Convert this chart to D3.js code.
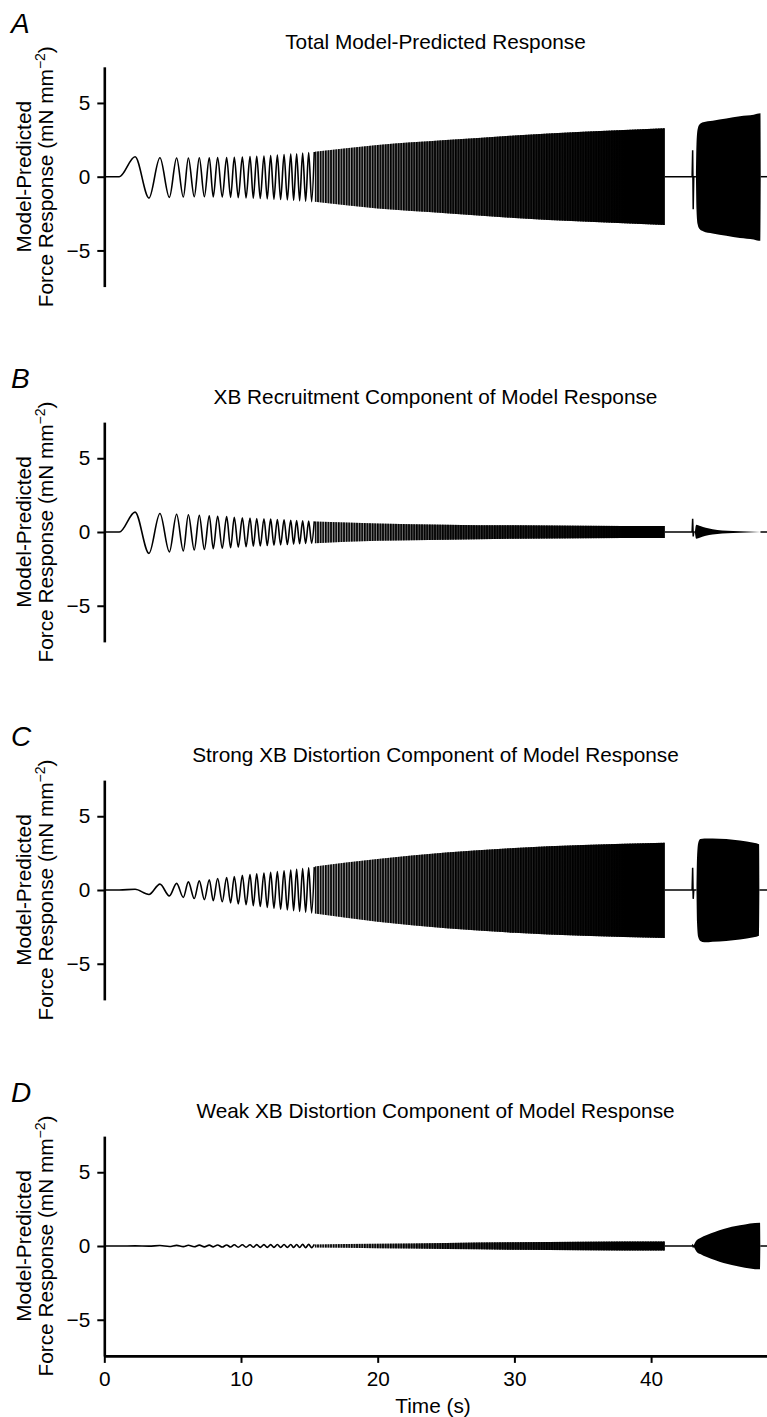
<!DOCTYPE html>
<html>
<head>
<meta charset="utf-8">
<script src="https://cdn.jsdelivr.net/npm/d3@7"></script>
<style>
  body { margin: 0; background: #fff; }
  svg { display: block; }
  text { font-family: "Liberation Sans", Arial, Helvetica, sans-serif; fill: #000; }
</style>
</head>
<body>
<div id="chart"></div>
<script>
// ---- data ----
const panelLetters = ['A', 'B', 'C', 'D']
const panelTitles = [
  'Total Model-Predicted Response',
  'XB Recruitment Component of Model Response',
  'Strong XB Distortion Component of Model Response',
  'Weak XB Distortion Component of Model Response'
]
const yTicks = [-5, 0, 5]
const xTicks = [0, 10, 20, 30, 40]

// stimulus onset and timing of the resolvable cycles (s)
const onsetTime = 1.1
const peakTimes = [2.25, 4.07, 5.29, 6.15, 6.95, 7.68, 8.29, 8.95, 9.51, 10.10, 10.66,
  11.15, 11.68, 12.17, 12.66, 13.15, 13.64, 14.07, 14.51, 14.95, 15.36]
const troughTimes = [3.27, 4.76, 5.78, 6.58, 7.32, 7.97, 8.63, 9.24, 9.80, 10.37,
  10.90, 11.41, 11.92, 12.41, 12.90, 13.39, 13.85, 14.29, 14.73, 15.17]

// peak / trough values (mN mm-2) for each panel
const peaksA = [1.35, 1.28, 1.27, 1.27, 1.28, 1.28, 1.3, 1.3, 1.32, 1.34, 1.36,
  1.38, 1.4, 1.43, 1.46, 1.5, 1.53, 1.56, 1.6, 1.64, 1.68]
const troughsA = [-1.45, -1.4, -1.38, -1.36, -1.36, -1.37, -1.38, -1.4, -1.42, -1.44,
  -1.46, -1.48, -1.5, -1.52, -1.55, -1.58, -1.6, -1.63, -1.66, -1.69]
const peaksB = [1.35, 1.25, 1.2, 1.17, 1.13, 1.1, 1.07, 1.04, 1.0, 0.97, 0.94,
  0.92, 0.9, 0.87, 0.85, 0.83, 0.8, 0.78, 0.76, 0.74, 0.72]
const troughsB = [-1.45, -1.35, -1.28, -1.22, -1.18, -1.14, -1.1, -1.07, -1.03, -1.0,
  -0.97, -0.95, -0.92, -0.9, -0.87, -0.85, -0.82, -0.8, -0.78, -0.76]
const peaksC = [0.05, 0.4, 0.45, 0.55, 0.62, 0.7, 0.78, 0.85, 0.92, 1.0, 1.05,
  1.1, 1.15, 1.2, 1.25, 1.3, 1.35, 1.4, 1.45, 1.5, 1.55]
const troughsC = [-0.3, -0.4, -0.5, -0.58, -0.65, -0.72, -0.8, -0.87, -0.94, -1.0,
  -1.06, -1.12, -1.18, -1.24, -1.3, -1.35, -1.4, -1.45, -1.5, -1.55]
const peaksD = [0.01, 0.03, 0.04, 0.05, 0.06, 0.06, 0.07, 0.07, 0.08, 0.08, 0.08,
  0.09, 0.09, 0.09, 0.1, 0.1, 0.1, 0.1, 0.11, 0.11, 0.11]
const troughsD = [-0.01, -0.03, -0.04, -0.05, -0.06, -0.06, -0.07, -0.07, -0.08, -0.08,
  -0.08, -0.09, -0.09, -0.09, -0.1, -0.1, -0.1, -0.1, -0.11, -0.11]

// envelope of the unresolved part of the sweep
const denseTimes = [15.4, 20, 25, 30, 35, 41]
const denseUpperA = [1.7, 2.15, 2.48, 2.8, 3.04, 3.29]
const denseLowerA = [-1.7, -2.15, -2.47, -2.8, -3.04, -3.27]
const denseUpperB = [0.72, 0.58, 0.5, 0.45, 0.42, 0.4]
const denseLowerB = [-0.76, -0.6, -0.52, -0.46, -0.42, -0.4]
const denseUpperC = [1.6, 2.1, 2.55, 2.85, 3.05, 3.2]
const denseLowerC = [-1.6, -2.15, -2.6, -2.9, -3.1, -3.25]
const denseUpperD = [0.11, 0.15, 0.2, 0.25, 0.28, 0.3]
const denseLowerD = [-0.11, -0.15, -0.2, -0.25, -0.28, -0.3]

// end of the sweep, start of the second stimulus, end of the record
const sweepEnd = 41
const spikeTimes = [43.0, 43.04, 43.08, 43.12]
const spikeA = [0, 1.8, -2.2, 0]
const spikeB = [0, 0.9, -0.3, 0]
const spikeC = [0, 1.5, -0.6, 0]
const spikeD = [0, 0.05, -0.05, 0]
const recordEnd = 48.5

// high-frequency burst envelopes
const burstTimesA = [43.28, 43.32, 43.4, 43.55, 43.8, 44.5, 45.5, 46.5, 47.5, 48.0, 48.02]
const burstUpperA = [0, 2.2, 3.2, 3.55, 3.7, 3.8, 3.95, 4.1, 4.2, 4.3, 0]
const burstLowerA = [0, -2.2, -3.2, -3.55, -3.7, -3.85, -4.0, -4.15, -4.25, -4.35, 0]
const burstTimesB = [43.2, 43.3, 43.6, 44.0, 44.5, 45.2, 46.0, 47.0, 48.0]
const burstUpperB = [0, 0.5, 0.4, 0.28, 0.18, 0.1, 0.06, 0.03, 0]
const burstLowerB = [0, -0.45, -0.38, -0.26, -0.17, -0.1, -0.06, -0.03, 0]
const burstTimesC = [43.32, 43.36, 43.45, 43.6, 43.9, 44.5, 45.5, 46.5, 47.5, 47.9, 47.92]
const burstUpperC = [0, 2.2, 3.2, 3.45, 3.5, 3.5, 3.45, 3.35, 3.2, 3.1, 0]
const burstLowerC = [0, -2.2, -3.2, -3.45, -3.55, -3.5, -3.45, -3.35, -3.2, -3.1, 0]
const burstTimesD = [43.1, 43.3, 43.6, 44.07, 44.7, 45.3, 46.5, 47.97, 47.99]
const burstUpperD = [0, 0.35, 0.55, 0.75, 0.97, 1.15, 1.4, 1.58, 0]
const burstLowerD = [0, -0.35, -0.55, -0.75, -0.97, -1.15, -1.4, -1.58, 0]

// ---- layout ----
const width = 767
const height = 1417
const panelZero = [176.7, 532, 890, 1246]
const pxPerUnit = 14.75
const fontSize = '20.8px'

const panels = [
  { peaks: peaksA, troughs: troughsA, up: denseUpperA, lo: denseLowerA, spike: spikeA, bt: burstTimesA, bu: burstUpperA, bl: burstLowerA },
  { peaks: peaksB, troughs: troughsB, up: denseUpperB, lo: denseLowerB, spike: spikeB, bt: burstTimesB, bu: burstUpperB, bl: burstLowerB },
  { peaks: peaksC, troughs: troughsC, up: denseUpperC, lo: denseLowerC, spike: spikeC, bt: burstTimesC, bu: burstUpperC, bl: burstLowerC },
  { peaks: peaksD, troughs: troughsD, up: denseUpperD, lo: denseLowerD, spike: spikeD, bt: burstTimesD, bu: burstUpperD, bl: burstLowerD }
]

const svg = d3.select('#chart').append('svg')
  .attr('width', width)
  .attr('height', height)

svg.append('rect').attr('width', width).attr('height', height).attr('fill', '#fff')

const x = d3.scaleLinear()
  .domain([0, recordEnd])
  .range([104.3, 104.3 + recordEnd * 13.67])

// striped fill for the unresolved cycles, darkening along the sweep
const defs = svg.append('defs')
const hatch = defs.append('pattern')
  .attr('id', 'hatch')
  .attr('patternUnits', 'userSpaceOnUse')
  .attr('width', 2.6)
  .attr('height', 4)
hatch.append('rect').attr('width', 1.6).attr('height', 4).attr('fill', '#000')

const fade = defs.append('linearGradient')
  .attr('id', 'fade')
  .attr('gradientUnits', 'userSpaceOnUse')
  .attr('x1', x(15)).attr('x2', x(38)).attr('y1', 0).attr('y2', 0)
fade.append('stop').attr('offset', 0).attr('stop-color', '#000').attr('stop-opacity', 0.25)
fade.append('stop').attr('offset', 0.45).attr('stop-color', '#000').attr('stop-opacity', 0.75)
fade.append('stop').attr('offset', 1).attr('stop-color', '#000').attr('stop-opacity', 1)

panels.forEach((p, i) => {
  const zero = panelZero[i]
  const y = d3.scaleLinear()
    .domain([-7.45, 7.45])
    .range([zero + 7.45 * pxPerUnit, zero - 7.45 * pxPerUnit])
  const g = svg.append('g')

  // panel letter and title
  g.append('text')
    .attr('x', 11)
    .attr('y', zero - 144)
    .style('font-size', '28px')
    .style('font-style', 'italic')
    .text(panelLetters[i])

  g.append('text')
    .attr('x', 435.5)
    .attr('y', zero - 128)
    .attr('text-anchor', 'middle')
    .style('font-size', fontSize)
    .text(panelTitles[i])

  // y axis title
  const yl = g.append('g').attr('transform', `translate(0, ${zero}) rotate(-90)`)
  yl.append('text')
    .attr('x', 0).attr('y', 30.5)
    .attr('text-anchor', 'middle')
    .style('font-size', fontSize)
    .text('Model-Predicted')
  const l2 = yl.append('text')
    .attr('x', 0).attr('y', 52.5)
    .attr('text-anchor', 'middle')
    .style('font-size', fontSize)
  l2.append('tspan').text('Force Response (mN mm')
  l2.append('tspan').attr('dy', -8).style('font-size', '14px').text('\u22122')
  l2.append('tspan').attr('dy', 8).text(')')

  // y axis
  const yAxis = g.append('g')
    .attr('transform', `translate(${x(0)}, 0)`)
    .call(d3.axisLeft(y).tickValues(yTicks).tickSize(7).tickSizeOuter(0).tickPadding(7)
      .tickFormat(d => d < 0 ? '\u2212' + Math.abs(d) : d))
  yAxis.select('.domain').attr('stroke-width', 2.6)
  yAxis.selectAll('.tick line').attr('stroke-width', 2)
  yAxis.selectAll('.tick text')
    .style('font-size', fontSize)
    .style('font-family', '"Liberation Sans", Arial, sans-serif')

  // resolved cycles
  const ext = peakTimes.map((t, k) => [t, p.peaks[k]])
    .concat(troughTimes.map((t, k) => [t, p.troughs[k]]))
    .sort((a, b) => a[0] - b[0])
  const early = [[0, 0], [onsetTime, 0]].concat(ext)

  const smooth = d3.line()
    .x(d => x(d[0]))
    .y(d => y(d[1]))
    .curve(d3.curveMonotoneX)
  const straight = d3.line()
    .x(d => x(d[0]))
    .y(d => y(d[1]))

  g.append('path')
    .attr('d', smooth(early))
    .attr('fill', 'none')
    .attr('stroke', '#000')
    .attr('stroke-width', 1.6)

  // unresolved part of the sweep
  const dense = denseTimes.map((t, k) => [t, p.up[k], p.lo[k]])
  const band = d3.area()
    .x(d => x(d[0]))
    .y0(d => y(d[2]))
    .y1(d => y(d[1]))
    .curve(d3.curveMonotoneX)
  g.append('path').attr('d', band(dense)).attr('fill', 'url(#hatch)')
  g.append('path').attr('d', band(dense)).attr('fill', 'url(#fade)')

  // quiet interval and the spike at the start of the second stimulus
  const gap = [[sweepEnd, 0]]
    .concat(spikeTimes.map((t, k) => [t, p.spike[k]]))
    .concat([[p.bt[0], 0]])
  g.append('path')
    .attr('d', straight(gap))
    .attr('fill', 'none')
    .attr('stroke', '#000')
    .attr('stroke-width', 1.5)

  // burst
  const burst = p.bt.map((t, k) => [t, p.bu[k], p.bl[k]])
  g.append('path').attr('d', band(burst)).attr('fill', '#000')

  g.append('path')
    .attr('d', straight([[p.bt[p.bt.length - 1], 0], [recordEnd, 0]]))
    .attr('fill', 'none')
    .attr('stroke', '#000')
    .attr('stroke-width', 1.5)

  // x axis on the last panel only
  if (i === 3) {
    const xAxis = g.append('g')
      .attr('transform', `translate(0, ${y(-7.45)})`)
      .call(d3.axisBottom(x).tickValues(xTicks).tickSize(7).tickSizeOuter(0).tickPadding(8))
    xAxis.select('.domain').attr('stroke-width', 2.6)
    xAxis.selectAll('.tick line').attr('stroke-width', 2)
    xAxis.selectAll('.tick text')
      .style('font-size', fontSize)
      .style('font-family', '"Liberation Sans", Arial, sans-serif')

    g.append('text')
      .attr('x', 433)
      .attr('y', 1413)
      .attr('text-anchor', 'middle')
      .style('font-size', fontSize)
      .text('Time (s)')
  }
})
</script>
</body>
</html>
